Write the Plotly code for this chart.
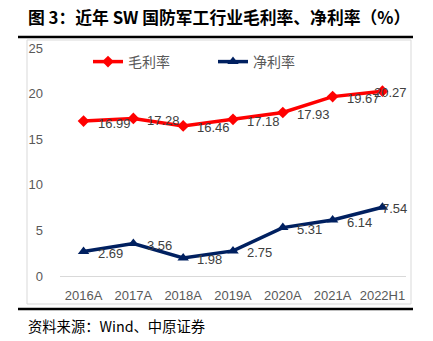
import plotly.graph_objects as go

# Data
years = ["2016A", "2017A", "2018A", "2019A", "2020A", "2021A", "2022H1"]
gross_margin = [16.99, 17.28, 16.46, 17.18, 17.93, 19.67, 20.27]
net_margin = [2.69, 3.56, 1.98, 2.75, 5.31, 6.14, 7.54]
y_ticks = [0, 5, 10, 15, 20, 25]

W, H = 433, 341
L, R, T, B = 60, 27, 48, 65
pw, ph = W - L - R, H - T - B


def px_x(px):
    return (px - L) / pw


def px_y(py):
    return (H - B - py) / ph


LAT = "Liberation Sans, Noto Sans CJK SC, sans-serif"
CJK = "Noto Sans CJK SC, Liberation Sans, sans-serif"

RED = "#FF0000"
NAVY = "#002060"

fig = go.Figure()
fig.add_trace(go.Scatter(
    x=years, y=gross_margin, name="毛利率", mode="lines+markers",
    line=dict(color=RED, width=3.5),
    marker=dict(symbol="diamond", size=9, color=RED),
    legend="legend",
))
fig.add_trace(go.Scatter(
    x=years, y=net_margin, name="净利率", mode="lines+markers",
    line=dict(color=NAVY, width=3.5),
    marker=dict(symbol="triangle-up", size=10, color=NAVY),
    legend="legend2",
))

# Value labels to the right of each point; the last ones are kept inside the plot
annotations = []
for series in (gross_margin, net_margin):
    n = len(series)
    for i, (cat, v) in enumerate(zip(years, series)):
        txt = f"{v:.2f}"
        if i < n - 1:
            annotations.append(dict(
                x=cat, y=v, xref="x", yref="y", text=txt, showarrow=False,
                xanchor="left", yanchor="middle", xshift=12, yshift=-2,
                font=dict(family=LAT, size=13, color="#404040"),
            ))
        else:
            annotations.append(dict(
                x=1.008, y=v, xref="paper", yref="y", text=txt, showarrow=False,
                xanchor="right", yanchor="middle", yshift=-1,
                font=dict(family=LAT, size=13, color="#404040"),
            ))

# Heading and source note
annotations.append(dict(
    x=px_x(26), y=px_y(17), xref="paper", yref="paper", showarrow=False,
    xanchor="left", yanchor="middle",
    text="<b>图 3：近年 SW 国防军工行业毛利率、净利率（%）</b>",
    font=dict(family=CJK, size=16.8, color="#000000"),
))
annotations.append(dict(
    x=px_x(26), y=px_y(325), xref="paper", yref="paper", showarrow=False,
    xanchor="left", yanchor="middle",
    text="资料来源：Wind、中原证券",
    font=dict(family=CJK, size=14.3, color="#000000"),
))

shapes = [
    # chart frame
    dict(type="rect", xref="paper", yref="paper",
         x0=px_x(27), x1=px_x(411), y0=px_y(304), y1=px_y(40),
         line=dict(color="#D9D9D9", width=1), layer="below"),
    # top rule
    dict(type="line", xref="paper", yref="paper",
         x0=px_x(18), x1=px_x(413), y0=px_y(37), y1=px_y(37),
         line=dict(color="#000000", width=2.5)),
    # bottom rule
    dict(type="line", xref="paper", yref="paper",
         x0=px_x(18), x1=px_x(413), y0=px_y(309), y1=px_y(309),
         line=dict(color="#000000", width=2.5)),
]

legend_style = dict(
    orientation="h", yanchor="middle", xanchor="left",
    font=dict(family=CJK, size=14, color="#595959"),
    bgcolor="rgba(0,0,0,0)",
)

fig.update_layout(
    width=W, height=H,
    margin=dict(l=L, r=R, t=T, b=B, pad=0),
    paper_bgcolor="white", plot_bgcolor="white",
    showlegend=True,
    legend=dict(x=px_x(88), y=px_y(62), **legend_style),
    legend2=dict(x=px_x(213), y=px_y(62), **legend_style),
    xaxis=dict(
        type="category", showgrid=False, zeroline=False,
        showline=False, ticks="",
        tickfont=dict(family=LAT, size=13, color="#595959"),
        ticklabelstandoff=10,
    ),
    yaxis=dict(
        range=[0, 25], tickvals=y_ticks, showgrid=False,
        zeroline=True, zerolinecolor="#D9D9D9", zerolinewidth=1,
        showline=False, ticks="",
        tickfont=dict(family=LAT, size=13, color="#595959"),
        ticklabelstandoff=16,
    ),
    annotations=annotations,
    shapes=shapes,
)

fig.write_html("out.html")
